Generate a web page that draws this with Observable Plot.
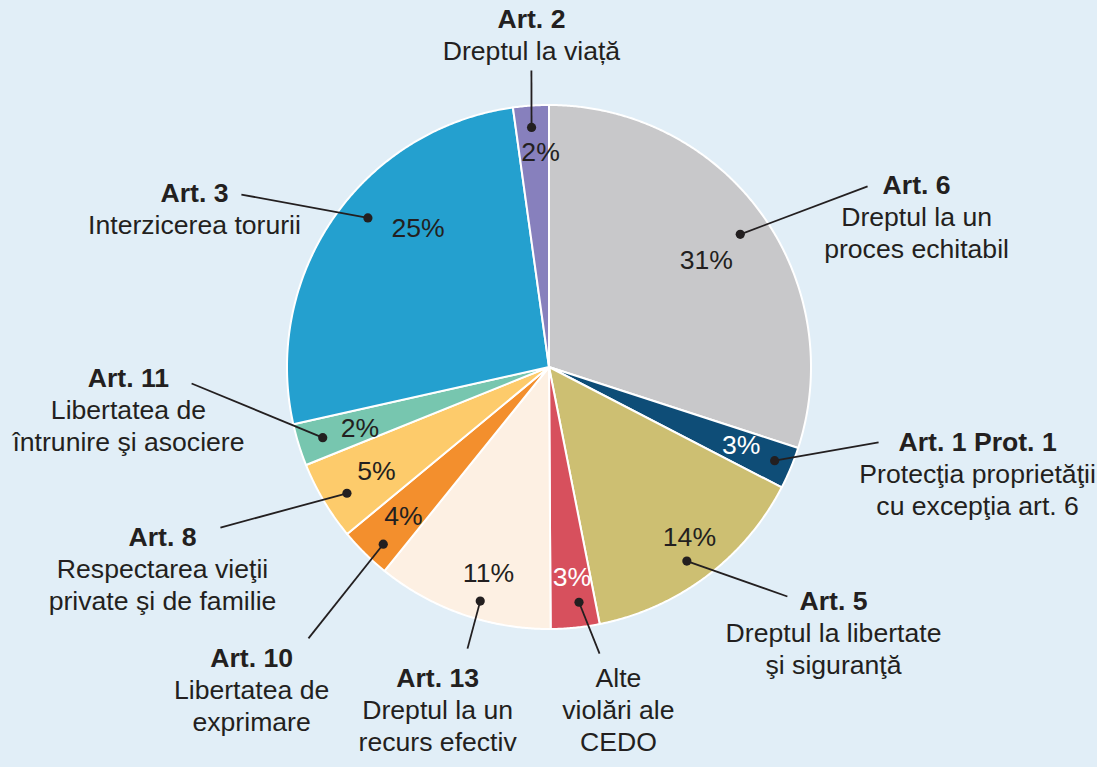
<!DOCTYPE html>
<html>
<head>
<meta charset="utf-8">
<script src="https://cdn.jsdelivr.net/npm/d3@7"></script>
<script src="https://cdn.jsdelivr.net/npm/@observablehq/plot@0.6"></script>
<style>
  html, body { margin: 0; padding: 0; background: #e1eef7; overflow: hidden; }
  #chart svg { display: block; }
</style>
</head>
<body>
<div id="chart"></div>
<script>
// ---- Data (clockwise from 12 o'clock) ----
const articles = ["Art. 6", "Art. 1 Prot. 1", "Art. 5", "Alte violări ale CEDO", "Art. 13", "Art. 10", "Art. 8", "Art. 11", "Art. 3", "Art. 2"];
const titles = ["Art. 6", "Art. 1 Prot. 1", "Art. 5", "", "Art. 13", "Art. 10", "Art. 8", "Art. 11", "Art. 3", "Art. 2"];
const descriptions = [
  ["Dreptul la un", "proces echitabil"],
  ["Protecţia proprietăţii", "cu excepţia art. 6"],
  ["Dreptul la libertate", "şi siguranţă"],
  ["Alte", "violări ale", "CEDO"],
  ["Dreptul la un", "recurs efectiv"],
  ["Libertatea de", "exprimare"],
  ["Respectarea vieţii", "private şi de familie"],
  ["Libertatea de", "întrunire şi asociere"],
  ["Interzicerea torurii"],
  ["Dreptul la viață"]
];
// slice shares as drawn (percent of the circle)
const shares = [30.0, 2.6, 14.3, 3.0, 10.9, 3.2, 4.9, 2.6, 26.3, 2.2];
// percentage labels as printed
const pctLabels = ["31%", "3%", "14%", "3%", "11%", "4%", "5%", "2%", "25%", "2%"];
const colors = ["#c8c8ca", "#0e4d77", "#cdbf72", "#d7505d", "#fdf0e3", "#f38f2d", "#fdcb6b", "#77c6af", "#24a0cf", "#8780bd"];
const pctColors = ["#231f20", "#ffffff", "#231f20", "#ffffff", "#231f20", "#231f20", "#231f20", "#231f20", "#231f20", "#231f20"];

// ---- Layout (in pie-radius units, relative to pie centre; y up) ----
const labelAnchor = [[1.401, 0.664], [1.634, -0.317], [1.084, -0.927], [0.263, -1.099], [-0.427, -1.221], [-1.137, -1.145], [-1.477, -0.683], [-1.607, -0.076], [-1.355, 0.630], [-0.069, 1.294]];
const leaderEnd = [[1.214, 0.691], [1.256, -0.286], [0.908, -0.874], [0.191, -1.092], [-0.313, -1.073], [-0.920, -1.034], [-1.256, -0.611], [-1.366, -0.061], [-1.176, 0.660], [-0.069, 1.134]];
// [fraction along slice angle, radius fraction]
const dotPos = [[0.51, 0.888], [0.48, 0.93], [0.53, 0.906], [0.37, 0.903], [0.43, 0.93], [0.38, 0.926], [0.44, 0.91], [0.51, 0.906], [0.55, 0.898], [0.46, 0.919]];
const pctPos = [[0.515, 0.725], [0.45, 0.79], [0.45, 0.84], [0.47, 0.805], [0.43, 0.82], [0.49, 0.795], [0.49, 0.77], [0.45, 0.76], [0.625, 0.73], [0.70, 0.82]];

const W = 1097, H = 767, R = 262, CX = 549, CY = 367;
const lineStep = 32 / R;
const ink = "#231f20";
const font = "'Liberation Sans', Arial, Helvetica, sans-serif";
const fs = 26.6;

const arcs = d3.pie().sort(null).startAngle(0).endAngle(2 * Math.PI)(shares);
const polar = (a, r) => [r * Math.sin(a), r * Math.cos(a)];
const angleAt = (i, f) => arcs[i].startAngle + f * (arcs[i].endAngle - arcs[i].startAngle);

// wedge outlines
const wedgePts = [];
arcs.forEach((a, i) => {
  const n = Math.max(2, Math.ceil((a.endAngle - a.startAngle) / 0.006));
  for (let k = 0; k <= n; k++) {
    const t = a.startAngle + (a.endAngle - a.startAngle) * k / n;
    const [x, y] = polar(t, 1);
    wedgePts.push({slice: articles[i], x, y, ox: 0, oy: 0});
  }
});

const dots = arcs.map((a, i) => {
  const [x, y] = polar(angleAt(i, dotPos[i][0]), dotPos[i][1]);
  return {x, y, x2: leaderEnd[i][0], y2: leaderEnd[i][1]};
});
const pcts = arcs.map((a, i) => {
  const [x, y] = polar(angleAt(i, pctPos[i][0]), pctPos[i][1]);
  return {x, y, text: pctLabels[i], color: pctColors[i]};
});
const titleRows = titles.map((t, i) => ({x: labelAnchor[i][0], y: labelAnchor[i][1], text: t})).filter(d => d.text);
const descRows = [];
descriptions.forEach((lines, i) => lines.forEach((line, k) => {
  descRows.push({x: labelAnchor[i][0], y: labelAnchor[i][1] - (k + 1) * lineStep, text: line});
}));

const chart = Plot.plot({
  width: W,
  height: H,
  margin: 0,
  x: {domain: [-CX / R, (W - CX) / R], axis: null},
  y: {domain: [-(H - CY) / R, CY / R], axis: null},
  color: {domain: articles, range: colors},
  style: {background: "#e1eef7", fontFamily: font, overflow: "hidden"},
  marks: [
    Plot.area(wedgePts, {x1: "ox", y1: "oy", x2: "x", y2: "y", z: "slice", fill: "slice", stroke: "#ffffff", strokeWidth: 2, strokeLinejoin: "round"}),
    Plot.link(dots, {x1: "x", y1: "y", x2: "x2", y2: "y2", stroke: ink, strokeWidth: 1.8}),
    Plot.dot(dots, {x: "x", y: "y", r: 4.6, fill: ink, stroke: "none"}),
    Plot.text(pcts, {x: "x", y: "y", text: "text", fill: "color", fontSize: fs, lineAnchor: "middle", textAnchor: "middle"}),
    Plot.text(titleRows, {x: "x", y: "y", text: "text", fill: ink, fontSize: fs, fontWeight: "bold", lineAnchor: "bottom", textAnchor: "middle"}),
    Plot.text(descRows, {x: "x", y: "y", text: "text", fill: ink, fontSize: fs, lineAnchor: "bottom", textAnchor: "middle"})
  ]
});
document.getElementById("chart").appendChild(chart);
</script>
</body>
</html>
